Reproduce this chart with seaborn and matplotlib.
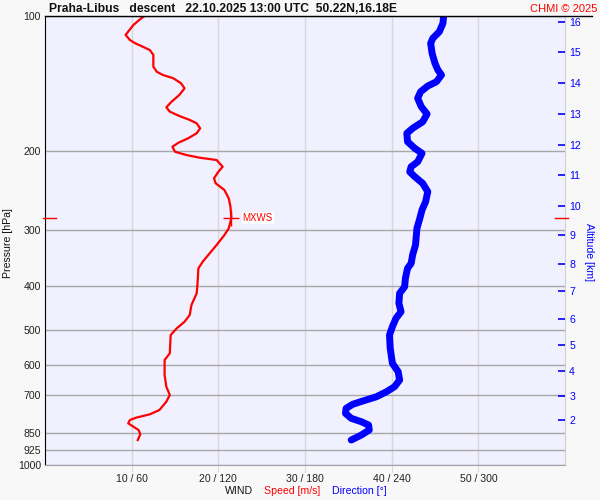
import numpy as np
import matplotlib
matplotlib.use('Agg')
import matplotlib.pyplot as plt
import matplotlib.transforms as mtransforms
from matplotlib.lines import Line2D
from matplotlib.ticker import NullLocator
import seaborn as sns

plt.rcParams['font.family'] = ['Liberation Sans', 'DejaVu Sans']

# Sounding: Praha-Libus descent, wind profile
title_text = "Praha-Libus   descent   22.10.2025 13:00 UTC  50.22N,16.18E"

# wind speed profile [hPa] -> [m/s]
speed_pres = [100.0, 101.2, 104.7, 110.2, 113.1, 115.0, 117.1, 119.1, 122.1, 129.7,
              133.1, 135.3, 137.6, 141.2, 144.9, 149.9, 155.2, 159.7, 163.3, 167.0,
              170.4, 173.4, 177.9, 182.5, 187.3, 191.5, 195.5, 200.6, 204.0, 206.9,
              209.3, 216.6, 222.3, 229.9, 235.9, 244.1, 254.7, 265.9, 282.2, 292.1,
              297.1, 307.5, 323.6, 337.7, 352.5, 364.7, 393.8, 414.6, 440.2, 463.4,
              479.6, 496.2, 513.5, 563.9, 583.6, 630.2, 669.2, 698.4, 722.8, 754.2,
              771.1, 784.6, 794.0, 807.5, 821.7, 835.7, 854.4, 879.8]
speed_ms = [11.5, 11.1, 10.2, 9.3, 9.8, 10.4, 11.3, 12.1, 12.5, 12.5,
            12.9, 13.6, 14.8, 15.7, 16.1, 15.5, 14.6, 14.0, 14.4, 15.5,
            16.7, 17.5, 17.9, 17.5, 16.5, 15.4, 14.7, 15.0, 16.3, 17.9,
            19.8, 20.5, 20.0, 19.5, 19.7, 20.7, 21.2, 21.4, 21.5, 21.3,
            21.2, 20.7, 19.8, 19.0, 18.2, 17.7, 17.6, 17.5, 16.9, 16.7,
            16.1, 15.2, 14.5, 14.4, 13.8, 13.8, 14.0, 14.4, 14.0, 13.2,
            12.1, 10.5, 9.8, 9.6, 10.2, 10.8, 11.0, 10.7]

# wind direction profile [hPa] -> [deg]
dir_pres = [100.0, 103.8, 108.4, 112.1, 115.0, 121.1, 127.5, 131.9, 135.3, 140.1,
            143.2, 147.5, 152.5, 159.2, 165.3, 172.0, 177.9, 182.5, 190.5, 197.1,
            202.2, 211.2, 216.6, 222.3, 228.0, 235.9, 246.2, 259.2, 270.4, 282.2,
            297.1, 323.6, 340.6, 355.5, 364.7, 383.9, 400.9, 414.6, 436.4, 455.6,
            471.3, 492.0, 513.5, 549.7, 593.7, 619.7, 646.7, 669.2, 686.6, 704.6,
            720.3, 732.5, 747.7, 767.2, 787.1, 801.0, 814.6, 835.7, 857.5, 879.8]
dir_deg = [276, 275.5, 273, 268.5, 267, 268, 270, 272, 274.5, 271,
           265, 260, 258, 260.5, 264.5, 261.5, 254.5, 250.5, 251, 256,
           261, 258, 253.5, 252.5, 256, 261.5, 265, 263.5, 261, 259.5,
           257.5, 256.5, 254.5, 253.5, 251, 249.5, 249, 245.5, 245, 246.5,
           243, 240.5, 238.5, 239, 240.5, 244.5, 245.5, 242, 236.5, 229.5,
           220, 213, 208.5, 208, 212, 219, 224, 224.5, 219, 212]

pres_ticks = [100, 200, 300, 400, 500, 600, 700, 850, 925, 1000]
alt_ticks_km = list(range(2, 17))
speed_ticks = [10, 20, 30, 40, 50]
dir_ticks = [60, 120, 180, 240, 300]


def std_atm_pressure(h_km):
    """ICAO standard atmosphere pressure [hPa] for altitude [km]"""
    h = np.asarray(h_km, dtype=float) * 1000.0
    p_low = 1013.25 * (1 - 2.25577e-5 * h) ** 5.25588
    p_high = 226.32 * np.exp(-(h - 11000.0) / 6341.6)
    return np.where(h <= 11000.0, p_low, p_high)


W, H = 600, 500
fig = plt.figure(figsize=(6, 5), dpi=100, facecolor='#f8f8f8')
ax = fig.add_axes([45 / W, 35 / H, 520 / W, 449 / H])
ax.set_facecolor('#f0f0ff')

# speed (red)
sns.lineplot(x=speed_ms, y=speed_pres, sort=False, estimator=None,
             color='red', linewidth=1.6, ax=ax, zorder=4)
ax.set_yscale('log')
ax.set_ylim(1000, 100)
ax.set_xlim(0, 60)

# direction (blue) on 0-360 twin axis
axd = ax.twiny()
sns.lineplot(x=dir_deg, y=dir_pres, sort=False, estimator=None,
             color='blue', linewidth=5, solid_capstyle='round', ax=axd, zorder=4)
axd.set_xlim(0, 360)
axd.set_yscale('log')
axd.set_ylim(1000, 100)
axd.set_xticks([])
axd.set_xlabel('')
for s in axd.spines.values():
    s.set_visible(False)

# grid
ax.set_yticks(pres_ticks, labels=[str(p) for p in pres_ticks])
ax.yaxis.set_minor_locator(NullLocator())
ax.set_xticks(speed_ticks,
              labels=[f'{s} / {d}' for s, d in zip(speed_ticks, dir_ticks)])
ax.grid(axis='y', color='#a8a8a8', linewidth=1)
ax.grid(axis='x', color='#d8d8d8', linewidth=1)
ax.set_axisbelow(True)
ax.set_xlabel('')
ax.set_ylabel('')
ax.tick_params(axis='y', length=0, pad=3, labelsize=7.6, colors='#222222')
ax.tick_params(axis='x', length=5, color='#d8d8d8', pad=1.5, labelsize=7.6,
               labelcolor='#222222')

ax.spines['left'].set_color('black')
ax.spines['bottom'].set_color('#a0a0b0')
ax.spines['right'].set_color('#d0d0d8')
ax.spines['top'].set_visible(False)
fig.add_artist(Line2D([45 / W, 592 / W], [484 / H, 484 / H], color='black', lw=1))

# altitude axis (right)
axa = ax.twinx()
axa.set_yscale('log')
axa.set_ylim(1000, 100)
axa.set_yticks(std_atm_pressure(alt_ticks_km), labels=[str(a) for a in alt_ticks_km])
axa.yaxis.set_minor_locator(NullLocator())
axa.tick_params(axis='y', direction='in', length=5, width=1.2, color='blue',
                labelcolor='blue', labelsize=7.6, pad=3)
for s in axa.spines.values():
    s.set_visible(False)

# max wind
i = int(np.argmax(speed_ms))
ax.plot(speed_ms[i], speed_pres[i], marker='+', ms=11, mew=1, color='red', zorder=6)
ax.text(speed_ms[i] + 1.3, speed_pres[i], 'MXWS', color='red', fontsize=7,
        va='center', ha='left', zorder=6,
        bbox=dict(facecolor='white', edgecolor='none', pad=0.6))
trans = mtransforms.blended_transform_factory(ax.transAxes, ax.transData)
ax.plot([-2 / 520, 11 / 520], [speed_pres[i]] * 2, transform=trans, clip_on=False,
        color='red', lw=1, zorder=6)
ax.plot([510 / 520, 523 / 520], [speed_pres[i]] * 2, transform=trans, clip_on=False,
        color='red', lw=1, zorder=6)

# texts
fig.text(49 / W, 1 - 8.5 / H, title_text, fontsize=8.7, fontweight='bold',
         va='center', ha='left', color='#111111')
fig.text(597 / W, 1 - 8.5 / H, 'CHMI \u00a9 2025', fontsize=8, color='red',
         va='center', ha='right')
fig.text(8 / W, 1 - 243 / H, 'Pressure [hPa]', rotation=90, fontsize=7.6,
         va='center', ha='center', color='#111111')
fig.text(589 / W, 1 - 252 / H, 'Altitude [km]', rotation=270, fontsize=7.6,
         va='center', ha='center', color='blue')
fig.text(225 / W, 1 - 491 / H, 'WIND', fontsize=7.6, va='center', ha='left', color='#111111')
fig.text(264 / W, 1 - 491 / H, 'Speed [m/s]', fontsize=7.6, va='center', ha='left', color='red')
fig.text(332 / W, 1 - 491 / H, 'Direction [\u00b0]', fontsize=7.6, va='center', ha='left', color='blue')

fig.savefig('out.png', dpi=100, facecolor=fig.get_facecolor())
